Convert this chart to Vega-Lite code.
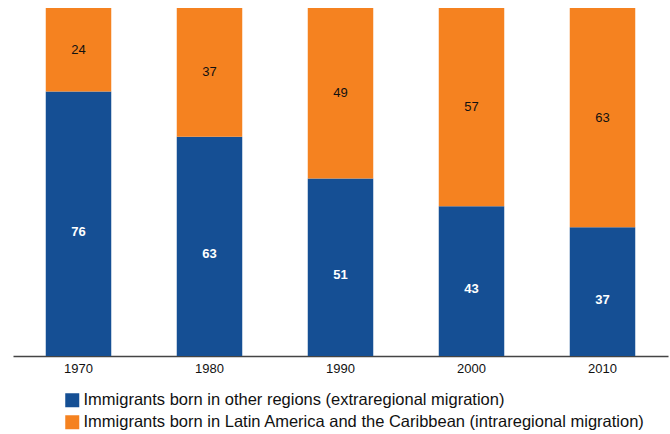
{
  "$schema": "https://vega.github.io/schema/vega-lite/v6.json",
  "width": 655,
  "height": 348,
  "autosize": {"type": "none"},
  "padding": {"left": 13, "top": 8, "right": 2, "bottom": 78},
  "background": "white",
  "config": {
    "view": {"stroke": null},
    "font": "Liberation Sans"
  },
  "data": {
    "values": [
      {"year": "1970", "series": "Immigrants born in other regions (extraregional migration)", "order": 1, "value": 76},
      {"year": "1970", "series": "Immigrants born in Latin America and the Caribbean (intraregional migration)", "order": 2, "value": 24},
      {"year": "1980", "series": "Immigrants born in other regions (extraregional migration)", "order": 1, "value": 63},
      {"year": "1980", "series": "Immigrants born in Latin America and the Caribbean (intraregional migration)", "order": 2, "value": 37},
      {"year": "1990", "series": "Immigrants born in other regions (extraregional migration)", "order": 1, "value": 51},
      {"year": "1990", "series": "Immigrants born in Latin America and the Caribbean (intraregional migration)", "order": 2, "value": 49},
      {"year": "2000", "series": "Immigrants born in other regions (extraregional migration)", "order": 1, "value": 43},
      {"year": "2000", "series": "Immigrants born in Latin America and the Caribbean (intraregional migration)", "order": 2, "value": 57},
      {"year": "2010", "series": "Immigrants born in other regions (extraregional migration)", "order": 1, "value": 37},
      {"year": "2010", "series": "Immigrants born in Latin America and the Caribbean (intraregional migration)", "order": 2, "value": 63}
    ]
  },
  "transform": [
    {"stack": "value", "groupby": ["year"], "sort": [{"field": "order"}], "as": ["v0", "v1"]},
    {"calculate": "(datum.v0 + datum.v1) / 2", "as": "mid"}
  ],
  "encoding": {
    "x": {
      "field": "year", "type": "ordinal",
      "scale": {"paddingInner": 0.5, "paddingOuter": 0.25},
      "axis": {
        "title": null, "labelAngle": 0, "ticks": false,
        "domainColor": "#444444", "domainWidth": 1.5,
        "labelFontSize": 13, "labelColor": "#111111", "labelPadding": 6
      }
    }
  },
  "layer": [
    {
      "mark": {"type": "bar"},
      "encoding": {
        "y": {"field": "v0", "type": "quantitative", "scale": {"domain": [0, 100]}, "axis": null},
        "y2": {"field": "v1"},
        "color": {
          "field": "series", "type": "nominal",
          "scale": {
            "domain": [
              "Immigrants born in other regions (extraregional migration)",
              "Immigrants born in Latin America and the Caribbean (intraregional migration)"
            ],
            "range": ["#154f94", "#f58220"]
          },
          "legend": {
            "title": null, "orient": "none", "legendX": 51, "legendY": 384,
            "direction": "vertical", "symbolType": "square", "symbolSize": 196,
            "symbolStrokeWidth": 0, "labelFontSize": 16.5, "labelColor": "#111111",
            "labelLimit": 700, "labelOffset": 3, "rowPadding": 5, "padding": 0
          }
        }
      }
    },
    {
      "transform": [{"filter": "datum.order == 2"}],
      "mark": {"type": "text", "fontSize": 13, "color": "#111111"},
      "encoding": {
        "y": {"field": "mid", "type": "quantitative"},
        "text": {"field": "value", "type": "quantitative"}
      }
    },
    {
      "transform": [{"filter": "datum.order == 1"}],
      "mark": {"type": "text", "fontSize": 13, "fontWeight": "bold", "color": "white", "dy": 8},
      "encoding": {
        "y": {"field": "mid", "type": "quantitative"},
        "text": {"field": "value", "type": "quantitative"}
      }
    }
  ]
}
